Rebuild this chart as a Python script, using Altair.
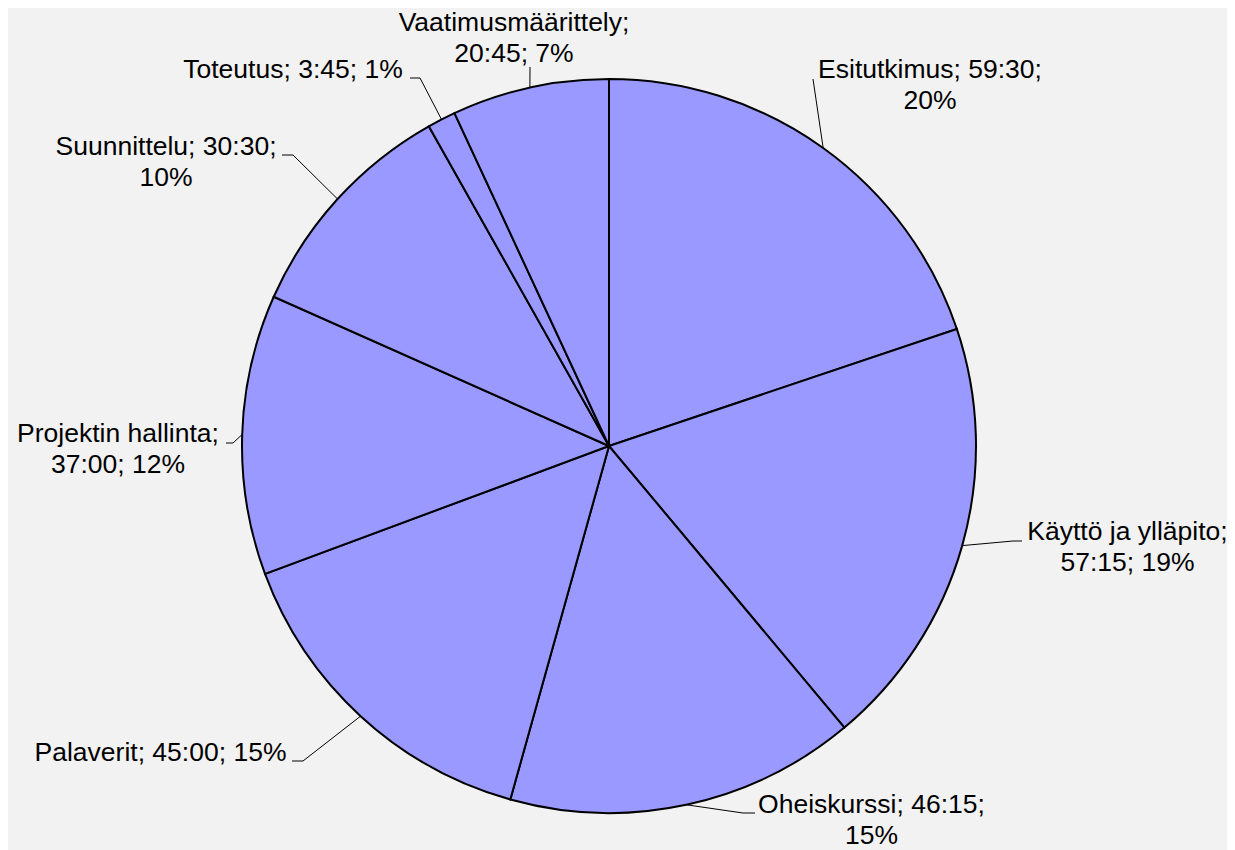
import math
import altair as alt
import pandas as pd

# ---- data ----
categories = ["Esitutkimus", "Käyttö ja ylläpito", "Oheiskurssi", "Palaverit",
              "Projektin hallinta", "Suunnittelu", "Toteutus", "Vaatimusmäärittely"]
hours = [59.5, 57.25, 46.25, 45.0, 37.0, 30.5, 3.75, 20.75]
# which "; " separator becomes a line break (0 = none)
label_break = [2, 1, 2, 0, 1, 2, 0, 1]

# ---- layout (page pixel coordinates) ----
PAGE = 8
W, H = 1219, 842
CX, CY, R = 609, 446, 367
label_anchor = [(930, 78), (1127.5, 540), (871.5, 813), (160.5, 761),
                (118, 442), (166, 155), (293, 78), (514, 31)]
leader_tail = [[(813, 79)], [(1013, 541), (1022, 541)], [(743, 813), (755, 813)],
               [(303, 761), (292, 761)], [(233, 443), (226, 443)],
               [(293, 155), (282, 155)], [(420, 78), (410, 78)], [(530, 67)]]

total = sum(hours)


def hm(v):
    h = int(v)
    m = int(round((v - h) * 60))
    return f"{h}:{m:02d}"


rows, label_rows, leader_rows = [], [], []
cum = 0.0
for i, (c, v) in enumerate(zip(categories, hours)):
    rows.append({"name": c, "hours": v, "idx": i})
    parts = [c, hm(v), f"{round(v / total * 100)}%"]
    b = label_break[i]
    if b == 0:
        txt = "; ".join(parts)
    else:
        txt = "; ".join(parts[:b]) + ";\n" + "; ".join(parts[b:])
    lx, ly = label_anchor[i]
    label_rows.append({"name": c, "text": txt, "x": lx - PAGE, "y": ly - PAGE})
    mid = (cum + v / 2) / total * 2 * math.pi
    cum += v
    pts = [(CX + R * math.sin(mid), CY - R * math.cos(mid))] + leader_tail[i]
    for k, (px, py) in enumerate(pts):
        leader_rows.append({"name": c, "k": k, "x": px - PAGE, "y": py - PAGE})

df = pd.DataFrame(rows)
labels = pd.DataFrame(label_rows)
leaders = pd.DataFrame(leader_rows)

pie = alt.Chart(df).mark_arc(radius=R, fill="#9999FF", stroke="black",
                             strokeWidth=2).encode(
    theta=alt.Theta("hours:Q", stack=True),
    order=alt.Order("idx:Q"),
    x=alt.value(CX - PAGE),
    y=alt.value(CY - PAGE),
)

lines = alt.Chart(leaders).mark_line(color="black", strokeWidth=1).encode(
    x=alt.X("x:Q", scale=None, axis=None),
    y=alt.Y("y:Q", scale=None, axis=None),
    detail="name:N",
    order="k:Q",
)

text = alt.Chart(labels).mark_text(
    font="Liberation Sans", fontSize=26.5, lineBreak="\n", lineHeight=31,
    align="center", baseline="alphabetic", color="black",
).encode(
    x=alt.X("x:Q", scale=None, axis=None),
    y=alt.Y("y:Q", scale=None, axis=None),
    text="text:N",
)

chart = alt.layer(pie, lines, text).properties(
    width=W, height=H, padding=0, autosize=alt.AutoSizeParams(type="none"),
    background="#F2F2F2",
).configure_view(stroke=None)

chart.save("out.html", embed_options={"renderer": "svg", "actions": False})
